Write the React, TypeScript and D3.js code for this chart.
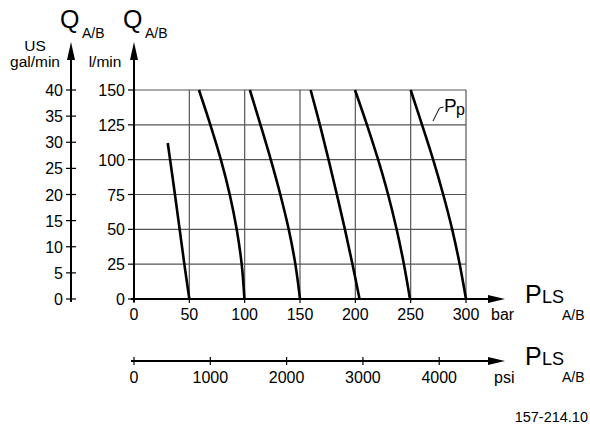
import React from "react";
import * as d3 from "d3";

const barTicks = [0, 50, 100, 150, 200, 250, 300];
const psiTicks = [0, 1000, 2000, 3000, 4000];
const lminTicks = [0, 25, 50, 75, 100, 125, 150];
const galTicks = [0, 5, 10, 15, 20, 25, 30, 35, 40];

// [bar, l/min]
const curve1: [number, number][] = [[30.5, 112], [37, 75], [45.5, 25], [50, 0]];
const curve2: [number, number][] = [[58.7, 150], [69, 125], [78.5, 100], [86.5, 75], [92.8, 50], [97.3, 25], [99.8, 0]];
const curve3: [number, number][] = [[104.7, 150], [114.3, 125], [123.6, 100], [132.2, 75], [139.8, 50], [145.8, 25], [150, 0]];
const curve4: [number, number][] = [[159.6, 150], [168, 125], [175.8, 100], [183.3, 75], [190.6, 50], [197.4, 25], [203.8, 0]];
const curve5: [number, number][] = [[199.7, 150], [210.5, 125], [220.6, 100], [229.6, 75], [237.3, 50], [243.9, 25], [249.4, 0]];
const curve6: [number, number][] = [[250, 150], [260.3, 125], [270.3, 100], [279.4, 75], [287.5, 50], [294.3, 25], [300, 0]];
const curves = [curve1, curve2, curve3, curve4, curve5, curve6];

const BAR_TO_PSI = 14.5038;
const FONT = "'Liberation Sans', Arial, sans-serif";

export default function App() {
  const x = d3.scaleLinear().domain([0, 300]).range([134, 466]);
  const y = d3.scaleLinear().domain([0, 150]).range([299, 90]);
  const yGal = d3.scaleLinear().domain([0, 40]).range([299, 90]);
  const xPsi = d3.scaleLinear().domain([0, 300 * BAR_TO_PSI]).range([134, 466]);

  const line = d3
    .line<[number, number]>()
    .x((d) => x(d[0]))
    .y((d) => y(d[1]))
    .curve(d3.curveCatmullRom.alpha(0.5));

  const gridColor = "#555";
  const axisY0 = y(0);
  const psiY = 361;
  const leftAxisX = 71;
  const rightAxisX = x(0);
  const arrowEnd = 505;

  return (
    <svg
      width={590}
      height={427}
      style={{ position: "absolute", left: 0, top: 0, background: "#fff" }}
      fontFamily={FONT}
    >
      {/* grid */}
      {lminTicks.filter((t) => t > 0).map((t) => (
        <line key={"h" + t} x1={x(0)} x2={x(300)} y1={y(t)} y2={y(t)} stroke={gridColor} strokeWidth={1.2} />
      ))}
      {barTicks.filter((t) => t > 0).map((t) => (
        <line key={"v" + t} x1={x(t)} x2={x(t)} y1={y(0)} y2={y(150)} stroke={gridColor} strokeWidth={1.2} />
      ))}

      {/* curves */}
      {curves.map((c, i) => (
        <path key={"c" + i} d={line(c) || ""} fill="none" stroke="#000" strokeWidth={2.6} />
      ))}

      {/* Pp label */}
      <path d="M433,121 L439.5,108 L443.5,107" fill="none" stroke="#000" strokeWidth={1} />
      <text x={444} y={112} fontSize={19}>P</text>
      <text x={456} y={115} fontSize={16}>p</text>

      {/* left gal/min axis */}
      <line x1={leftAxisX} x2={leftAxisX} y1={axisY0 + 3} y2={58} stroke="#000" strokeWidth={2} />
      <polygon points={`${leftAxisX - 4},60 ${leftAxisX + 4},60 ${leftAxisX},42`} fill="#000" />
      {galTicks.map((t) => (
        <g key={"g" + t}>
          <line x1={leftAxisX - 5} x2={leftAxisX + 5} y1={yGal(t)} y2={yGal(t)} stroke="#000" strokeWidth={1.2} />
          <text x={63} y={yGal(t) + 6} fontSize={16} textAnchor="end">{t}</text>
        </g>
      ))}

      {/* right l/min axis */}
      <line x1={rightAxisX} x2={rightAxisX} y1={axisY0 + 3} y2={58} stroke="#000" strokeWidth={2} />
      <polygon points={`${rightAxisX - 4},60 ${rightAxisX + 4},60 ${rightAxisX},42`} fill="#000" />
      {lminTicks.map((t) => (
        <g key={"l" + t}>
          <line x1={rightAxisX - 6} x2={rightAxisX} y1={y(t)} y2={y(t)} stroke="#000" strokeWidth={1.2} />
          <text x={125} y={y(t) + 6} fontSize={16} textAnchor="end">{t}</text>
        </g>
      ))}

      {/* bar axis */}
      <line x1={rightAxisX - 3} x2={490} y1={axisY0} y2={axisY0} stroke="#000" strokeWidth={2} />
      <polygon points={`488,${axisY0 - 4} 488,${axisY0 + 4} ${arrowEnd},${axisY0}`} fill="#000" />
      {barTicks.map((t) => (
        <g key={"b" + t}>
          <line x1={x(t)} x2={x(t)} y1={axisY0} y2={axisY0 + 4} stroke="#000" strokeWidth={1.2} />
          <text x={x(t)} y={320} fontSize={16} textAnchor="middle">{t}</text>
        </g>
      ))}
      <text x={491} y={320} fontSize={16}>bar</text>

      {/* psi axis */}
      <line x1={rightAxisX - 3} x2={490} y1={psiY} y2={psiY} stroke="#000" strokeWidth={2} />
      <polygon points={`488,${psiY - 4} 488,${psiY + 4} ${arrowEnd},${psiY}`} fill="#000" />
      {psiTicks.map((t) => (
        <g key={"p" + t}>
          <line x1={xPsi(t)} x2={xPsi(t)} y1={psiY - 4} y2={psiY + 4} stroke="#000" strokeWidth={1.2} />
          <text x={xPsi(t)} y={383} fontSize={16} textAnchor="middle">{t}</text>
        </g>
      ))}
      <text x={494} y={383} fontSize={16}>psi</text>

      {/* axis titles */}
      <text x={60} y={28} fontSize={25}>Q</text>
      <text x={82} y={38} fontSize={14}>A/B</text>
      <text x={123} y={28} fontSize={25}>Q</text>
      <text x={145} y={38} fontSize={14}>A/B</text>
      <text x={35} y={51} fontSize={15.5} textAnchor="middle">US</text>
      <text x={35} y={67} fontSize={15.5} textAnchor="middle">gal/min</text>
      <text x={105} y={67} fontSize={15.5} textAnchor="middle">l/min</text>

      <text x={525} y={303} fontSize={25}>P</text>
      <text x={542} y={303} fontSize={18}>LS</text>
      <text x={562} y={320} fontSize={14}>A/B</text>

      <text x={525} y={365} fontSize={25}>P</text>
      <text x={542} y={365} fontSize={18}>LS</text>
      <text x={562} y={382} fontSize={14}>A/B</text>

      <text x={588} y={422} fontSize={14.5} textAnchor="end">157-214.10</text>
    </svg>
  );
}
